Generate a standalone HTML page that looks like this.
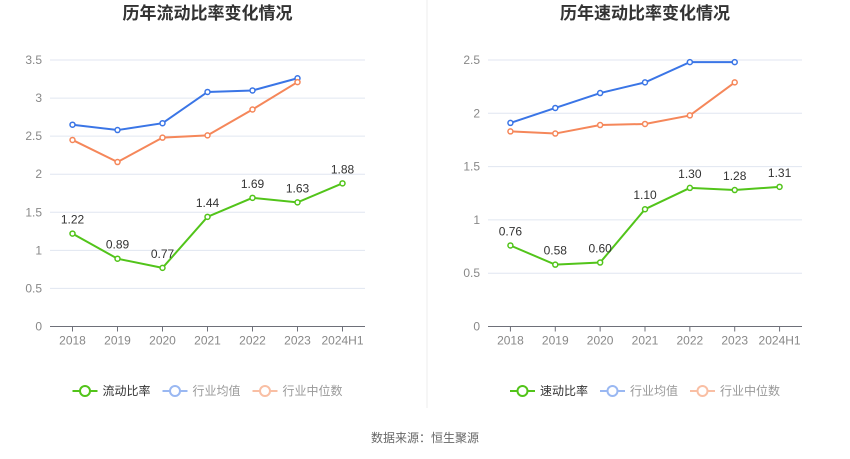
<!DOCTYPE html>
<html><head><meta charset="utf-8">
<style>
body{margin:0;width:850px;height:459px;background:#fff;font-family:"Liberation Sans","Noto Sans CJK SC",sans-serif;overflow:hidden}
svg{position:absolute;left:0;top:0}
</style></head>
<body>
<svg id="c" width="850" height="459"></svg>
<script>
const categories=["2018","2019","2020","2021","2022","2023","2024H1"];
const leftCompany=[1.22,0.89,0.77,1.44,1.69,1.63,1.88];
const leftAvg=[2.65,2.58,2.67,3.08,3.10,3.26];
const leftMedian=[2.45,2.16,2.48,2.51,2.85,3.21];
const leftTicks=[0,0.5,1,1.5,2,2.5,3,3.5];
const rightCompany=[0.76,0.58,0.60,1.10,1.30,1.28,1.31];
const rightAvg=[1.91,2.05,2.19,2.29,2.48,2.48];
const rightMedian=[1.83,1.81,1.89,1.90,1.98,2.29];
const rightTicks=[0,0.5,1,1.5,2,2.5];

const NS="http://www.w3.org/2000/svg";
const svg=document.getElementById('c');
function mk(tag,attrs,parent){const e=document.createElementNS(NS,tag);for(const k in attrs)e.setAttribute(k,attrs[k]);(parent||svg).appendChild(e);return e;}

function chart(prefix,x0,x1,title,ticks,maxV,comp,avg,med,compName){
  const g=mk('g',{});
  
  
  const yTop=60,yBot=326.5;
  const y=v=>yBot-(v/maxV)*(yBot-yTop);
  const step=(x1-x0)/categories.length;
  const x=i=>x0+step*(i+0.5);
  const t=mk('text',{x:(x0+x1)/2,y:19,'text-anchor':'middle','font-size':17,'font-weight':'bold',fill:'#333'},g);
  t.textContent=title;
  
  
  ticks.forEach(v=>{
    if(v>0){const l=mk('line',{x1:x0,x2:x1,y1:y(v),y2:y(v),stroke:'#e0e6f1','stroke-width':1},g);
      
      }
    const tt=mk('text',{x:x0-8,y:y(v)+4,'text-anchor':'end','font-size':12,fill:'#888'},g);
    tt.textContent=String(v);
    
    
  });
  const ax=mk('line',{x1:x0,x2:x1,y1:yBot,y2:yBot,stroke:'#6e7079','stroke-width':1},g);
  
  
  categories.forEach((c,i)=>{
    mk('line',{x1:x(i),x2:x(i),y1:yBot,y2:yBot+5,stroke:'#6e7079'},g);
    const tt=mk('text',{x:x(i),y:yBot+18,'text-anchor':'middle','font-size':12,fill:'#888'},g);
    tt.textContent=c;
    
    
  });
  function series(data,color,name,labels){
    const p=mk('polyline',{points:data.map((v,i)=>x(i)+','+y(v)).join(' '),fill:'none',stroke:color,'stroke-width':2},g);
    
    
    data.forEach((v,i)=>{
      const c=mk('circle',{cx:x(i),cy:y(v),r:2.5,fill:'#fff',stroke:color,'stroke-width':1.5},g);
      
      
      if(labels){const tl=mk('text',{x:x(i),y:y(v)-10,'text-anchor':'middle','font-size':12,fill:'#333'},g);
        tl.textContent=v.toFixed(2);
        
        }
    });
  }
  series(avg,'#3a75e6','industry-average',false);
  series(med,'#f5875a','industry-median',false);
  series(comp,'#52c41a','company',true);
  const legend=[[compName,'#52c41a','#333'],['行业均值','#9ab8f2','#999'],['行业中位数','#f9bfa4','#999']];
  const widths=[90,90,100];
  let lx=(x0+x1)/2-135;
  legend.forEach((L,i)=>{
    const lg=mk('g',{},g);
    
    
    mk('line',{x1:lx,x2:lx+25,y1:391,y2:391,stroke:L[1],'stroke-width':2},lg);
    mk('circle',{cx:lx+12.5,cy:391,r:5,fill:'#fff',stroke:L[1],'stroke-width':2},lg);
    const tx=mk('text',{x:lx+30,y:395,'font-size':12,fill:L[2]},lg);
    tx.textContent=L[0];
    lx+=widths[i];
  });
}
chart('current-ratio',50,365,'历年流动比率变化情况',leftTicks,3.5,leftCompany,leftAvg,leftMedian,'流动比率');
chart('quick-ratio',488,802,'历年速动比率变化情况',rightTicks,2.5,rightCompany,rightAvg,rightMedian,'速动比率');
const d=mk('line',{x1:427,x2:427,y1:0,y2:408,stroke:'#eee'});


const s=mk('text',{x:425,y:442,'text-anchor':'middle','font-size':12,fill:'#666'});
s.textContent='数据来源：恒生聚源';


</script>
</body></html>
